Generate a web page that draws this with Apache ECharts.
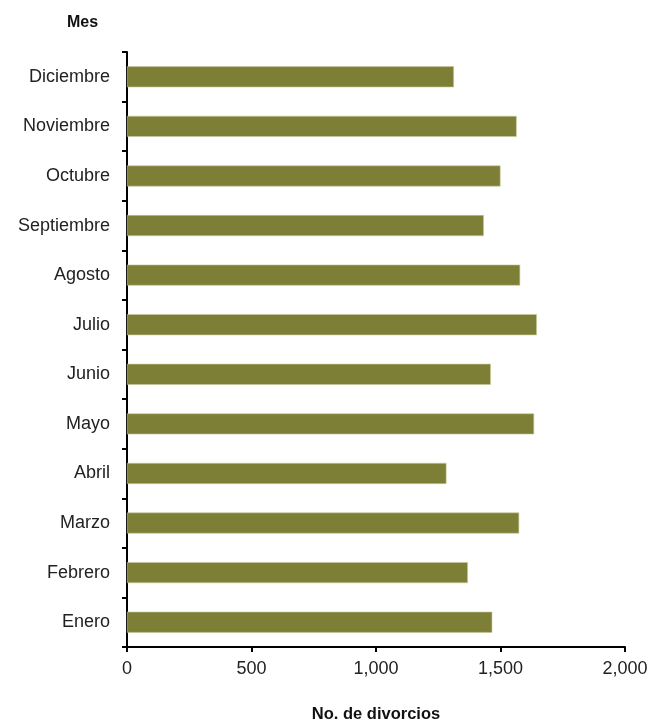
<!DOCTYPE html>
<html>
<head>
<meta charset="utf-8">
<script src="https://cdn.jsdelivr.net/npm/echarts@6/dist/echarts.min.js"></script>
<style>html,body{margin:0;padding:0;background:#fff}#c{width:652px;height:723px}</style>
</head>
<body>
<div id="c"></div>
<script>
const months = ['Enero','Febrero','Marzo','Abril','Mayo','Junio','Julio','Agosto','Septiembre','Octubre','Noviembre','Diciembre'];
const divorcios = [1467,1369,1575,1283,1635,1461,1646,1579,1433,1500,1565,1313];
const xTicks = [0,500,1000,1500,2000];

const chart = echarts.init(document.getElementById('c'));
const font = '"Liberation Sans", Arial, sans-serif';
chart.setOption({
  animation:false,
  title:{text:'Mes',left:62,top:10,textStyle:{fontFamily:font,fontSize:16,fontWeight:'bold',color:'#111'}},
  grid:{left:127,right:27,top:52,bottom:76,containLabel:false,outerBoundsMode:'none'},
  xAxis:{type:'value',min:xTicks[0],max:xTicks[xTicks.length-1],interval:500,
    name:'No. de divorcios',nameLocation:'middle',nameGap:59,
    nameTextStyle:{fontFamily:font,fontSize:16.5,fontWeight:'bold',color:'#111'},
    axisLine:{show:true,lineStyle:{color:'#000',width:2}},
    axisTick:{show:true,length:5,lineStyle:{color:'#000',width:2}},
    splitLine:{show:false},
    axisLabel:{fontFamily:font,fontSize:18,color:'#222',margin:13,
      formatter:v=>v.toLocaleString('en-US')}},
  yAxis:{type:'category',data:months,
    axisLine:{show:true,lineStyle:{color:'#000',width:2}},
    axisTick:{show:true,length:5,lineStyle:{color:'#000',width:2}},
    axisLabel:{fontFamily:font,fontSize:18,color:'#222',margin:17}},
  series:[{type:'bar',data:divorcios,barWidth:21,
    itemStyle:{color:'#7e7f36',borderColor:'#c9caa0',borderWidth:0.6}}]
});
</script>
</body>
</html>
